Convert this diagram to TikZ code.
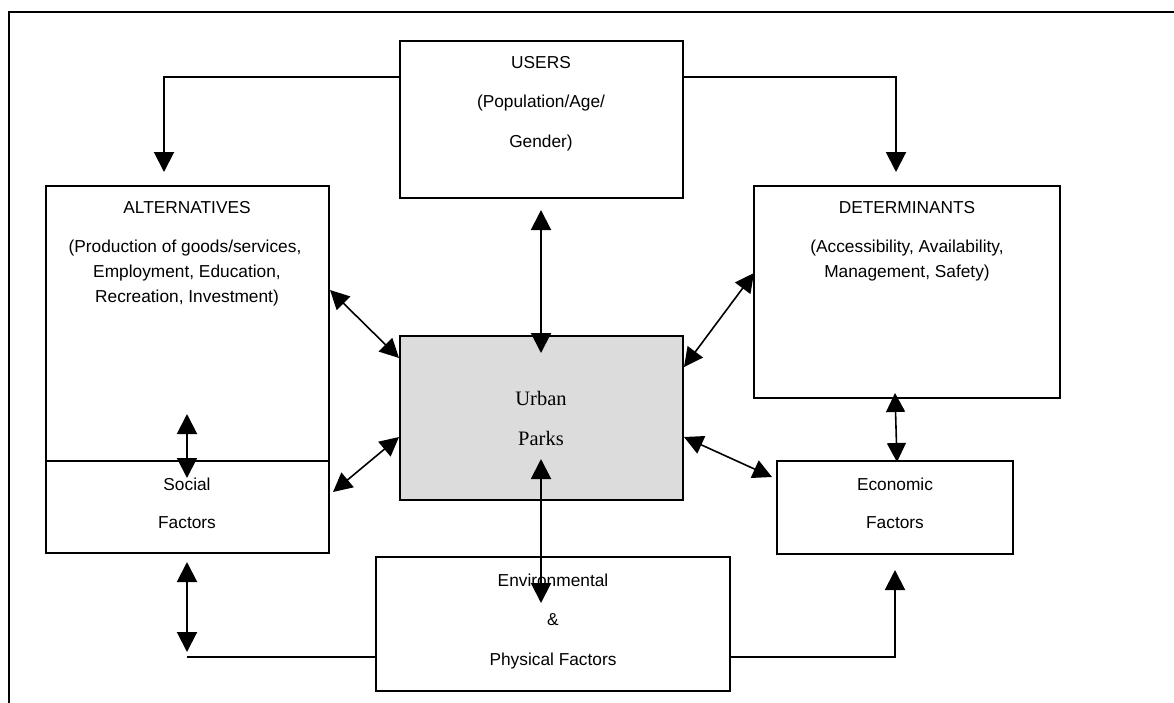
\documentclass[tikz,border=0pt]{standalone}
\usepackage{fontspec}
\setmainfont{Liberation Sans}
\newfontfamily\serifparks{Liberation Serif}
\usetikzlibrary{arrows.meta,calc}
\tikzset{
  box/.style={draw, line width=2pt, rectangle, inner sep=0pt, outer sep=0pt},
  lbl/.style={inner sep=0pt, font=\fontsize{17.3}{19}\selectfont, anchor=center},
  serlbl/.style={inner sep=0pt, font=\serifparks\fontsize{20.5}{22}\selectfont, anchor=center},
  conn/.style={line width=2pt},
  arr/.style={line width=2pt, -{Triangle[length=20pt,width=20pt]}},
  darr/.style={line width=2pt, {Triangle[length=20pt,width=20pt]}-{Triangle[length=20pt,width=20pt]}},
  dgarr/.style={line width=1.6pt, {Triangle[length=19pt,width=19pt]}-{Triangle[length=19pt,width=19pt]}},
}
\begin{document}
\begin{tikzpicture}[x=1pt,y=-1pt]
\useasboundingbox (0,0) rectangle (1174,702);
% outer frame (left and top edges)
\draw[line width=2pt] (9,710) -- (9,12) -- (1180,12);

% boxes
\node[box, minimum width=283, minimum height=157] (users) at (541.5,119.5) {};
\node[box, minimum width=283, minimum height=275] (alt) at (187.5,323.5) {};
\node[box, minimum width=283, minimum height=92] (social) at (187.5,507) {};
\node[box, minimum width=306, minimum height=212] (det) at (907,292) {};
\node[box, fill={rgb,255:red,220;green,220;blue,220}, minimum width=283, minimum height=164] (urban) at (541.5,418) {};
\node[box, minimum width=236, minimum height=93] (econ) at (895,507.5) {};
\node[box, fill=white, minimum width=354, minimum height=134] (env) at (553,624) {};

% texts
\node[lbl] (t-users1) at (541,63) {USERS};
\node[lbl] (t-users2) at (541,103) {(Population/Age/};
\node[lbl] (t-users3) at (541,143) {Gender)};
\node[lbl] (t-alt1) at (187,208) {ALTERNATIVES};
\node[lbl] (t-alt2) at (185,248) {(Production of goods/services,};
\node[lbl] (t-alt3) at (187,273) {Employment, Education,};
\node[lbl] (t-alt4) at (187,298) {Recreation, Investment)};
\node[lbl] (t-soc1) at (187,484) {Social};
\node[lbl] (t-soc2) at (187,523) {Factors};
\node[lbl] (t-det1) at (907,208) {DETERMINANTS};
\node[lbl] (t-det2) at (907,248) {(Accessibility, Availability,};
\node[lbl] (t-det3) at (907,273) {Management, Safety)};
\node[serlbl] (t-urb1) at (541,398) {Urban};
\node[serlbl] (t-urb2) at (541,438) {Parks};
\node[lbl] (t-eco1) at (895,484) {Economic};
\node[lbl] (t-eco2) at (895,523) {Factors};
\node[lbl] (t-env1) at (553,580) {Environmental};
\node[lbl] (t-env2) at (553,620) {\&};
\node[lbl] (t-env3) at (553,661) {Physical Factors};

% connector end coordinates
\coordinate (uL) at (400,77);
\coordinate (uLend) at (164,172);
\coordinate (uR) at (683,77);
\coordinate (uRend) at (896,172);
\coordinate (uDtop) at (541,210);
\coordinate (uDbot) at (541,353);
\coordinate (aU1) at (330,290);
\coordinate (aU2) at (399,358);
\coordinate (sU1) at (333,492);
\coordinate (sU2) at (399,437);
\coordinate (dU1) at (754,273);
\coordinate (dU2) at (684,367);
\coordinate (eU1) at (684,437);
\coordinate (eU2) at (772,477);
\coordinate (dE1) at (895,393);
\coordinate (dE2) at (897,462);
\coordinate (as1) at (187,414);
\coordinate (as2) at (187,478);
\coordinate (ue1) at (541,459);
\coordinate (ue2) at (541,603);
\coordinate (envL) at (376,657);
\coordinate (bl) at (187,657);
\coordinate (bl1) at (187,562);
\coordinate (bl2) at (187,652);
\coordinate (envR) at (730,657);
\coordinate (brend) at (895,570);

% connectors
\draw[arr] (uL) -| (uLend);
\draw[arr] (uR) -| (uRend);
\draw[darr] (uDtop) -- (uDbot);
\draw[dgarr] (aU1) -- (aU2);
\draw[dgarr] (sU1) -- (sU2);
\draw[dgarr] (dU1) -- (dU2);
\draw[dgarr] (eU1) -- (eU2);
\draw[dgarr] (dE1) -- (dE2);
\draw[darr] (as1) -- (as2);
\draw[darr] (ue1) -- (ue2);
\draw[conn] (envL) -- (bl);
\draw[darr] (bl1) -- (bl2);
\draw[arr] (envR) -| (brend);
\end{tikzpicture}
\end{document}
